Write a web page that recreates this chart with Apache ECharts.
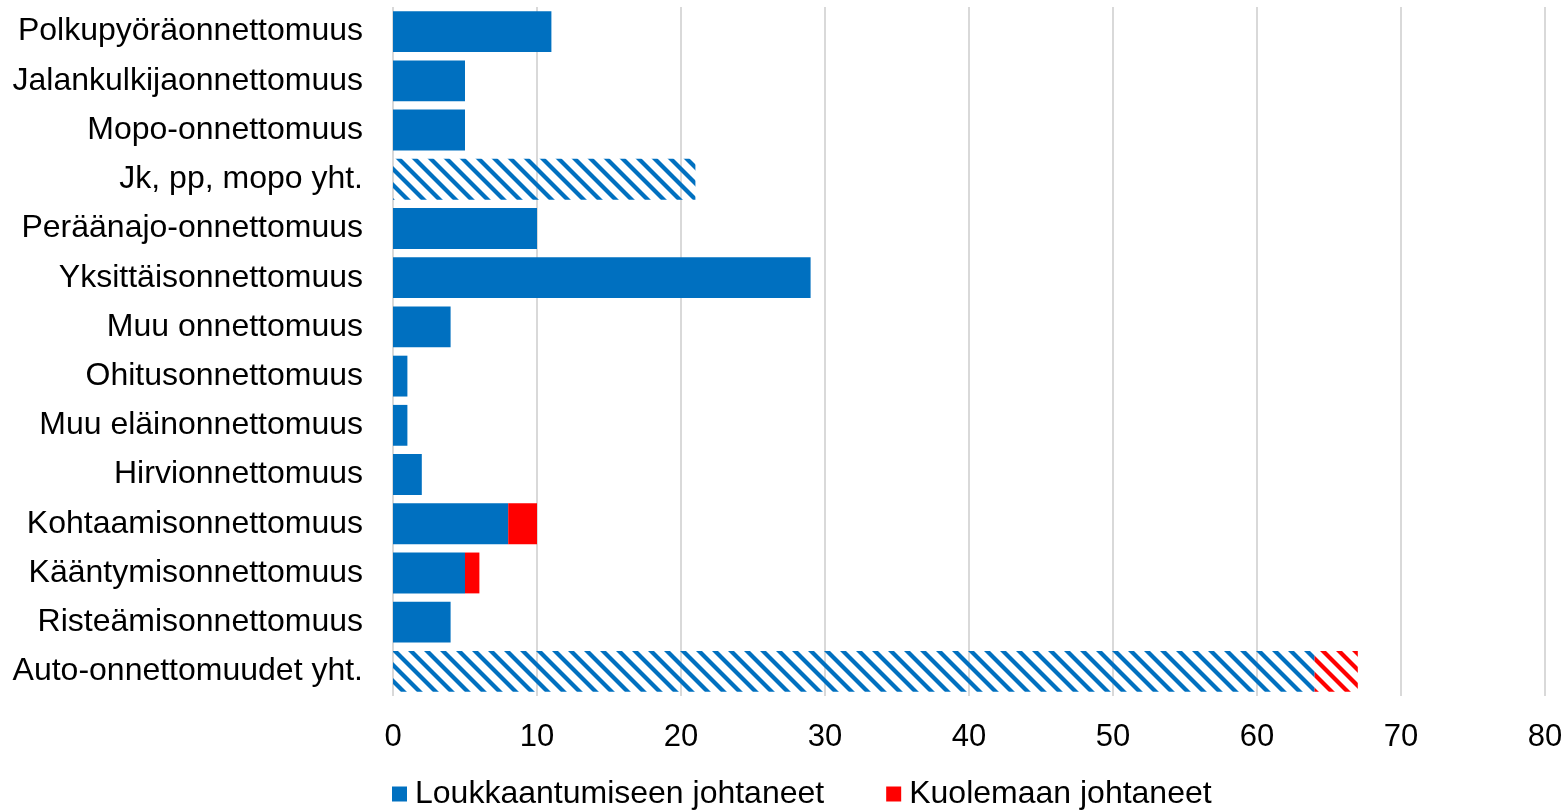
<!DOCTYPE html>
<html>
<head>
<meta charset="utf-8">
<script src="https://cdn.jsdelivr.net/npm/echarts@6/dist/echarts.min.js"></script>
<style>
  html, body { margin: 0; padding: 0; background: #fff; }
  #chart { width: 1566px; height: 812px; }
</style>
</head>
<body>
<div id="chart"></div>
<script>
// Accident categories, top to bottom
const categories = [
  'Polkupyöräonnettomuus',
  'Jalankulkijaonnettomuus',
  'Mopo-onnettomuus',
  'Jk, pp, mopo yht.',
  'Peräänajo-onnettomuus',
  'Yksittäisonnettomuus',
  'Muu onnettomuus',
  'Ohitusonnettomuus',
  'Muu eläinonnettomuus',
  'Hirvionnettomuus',
  'Kohtaamisonnettomuus',
  'Kääntymisonnettomuus',
  'Risteämisonnettomuus',
  'Auto-onnettomuudet yht.'
];
// Accidents leading to injury
const injured = [11, 5, 5, 21, 10, 29, 4, 1, 1, 2, 8, 5, 4, 64];
// Accidents leading to death
const deaths = [0, 0, 0, 0, 0, 0, 0, 0, 0, 0, 2, 1, 0, 3];
// Subtotal rows, drawn with a hatched fill
const subtotalRows = ['Jk, pp, mopo yht.', 'Auto-onnettomuudet yht.'];
const xTicks = { min: 0, max: 80, interval: 10 };

const seriesNames = ['Loukkaantumiseen johtaneet', 'Kuolemaan johtaneet'];
const BLUE = '#0070C0';
const RED = '#FF0000';
const FONT = '"Liberation Sans", Arial, sans-serif';

// Diagonal stripe tile (top-left to bottom-right) for subtotal bars
function stripeTile(color) {
  const size = 16;
  const c = document.createElement('canvas');
  c.width = size; c.height = size;
  const ctx = c.getContext('2d');
  ctx.strokeStyle = color;
  ctx.lineWidth = 4.2;
  ctx.lineCap = 'square';
  for (const off of [-size, 0, size]) {
    ctx.beginPath();
    ctx.moveTo(off, 0);
    ctx.lineTo(off + size, size);
    ctx.stroke();
  }
  return { image: c, repeat: 'repeat' };
}

function buildData(values, color) {
  const pattern = stripeTile(color);
  return values.map((v, i) => {
    if (subtotalRows.includes(categories[i])) {
      return { value: v, itemStyle: { color: pattern } };
    }
    return v;
  });
}

const chart = echarts.init(document.getElementById('chart'), null, { renderer: 'canvas' });

chart.setOption({
  animation: false,
  backgroundColor: '#ffffff',
  grid: { left: 393, right: 21, top: 7, bottom: 116, containLabel: false },
  legend: {
    data: seriesNames,
    left: 392,
    top: 778,
    padding: 0,
    itemWidth: 15,
    itemHeight: 15,
    itemGap: 62,
    icon: 'rect',
    textStyle: { fontFamily: FONT, fontSize: 32, color: '#000', padding: [0, 0, 0, 3] }
  },
  xAxis: {
    type: 'value',
    min: xTicks.min,
    max: xTicks.max,
    interval: xTicks.interval,
    axisLine: { show: false },
    axisTick: { show: false },
    axisLabel: { fontFamily: FONT, fontSize: 31, color: '#000', margin: 26 },
    splitLine: { show: true, lineStyle: { color: '#D9D9D9', width: 2 } }
  },
  yAxis: {
    type: 'category',
    data: categories,
    inverse: true,
    axisLine: { show: false },
    axisTick: { show: false },
    axisLabel: { fontFamily: FONT, fontSize: 32, color: '#000', margin: 30 }
  },
  series: [
    {
      name: seriesNames[0],
      type: 'bar',
      stack: 'total',
      barCategoryGap: '17%',
      itemStyle: { color: BLUE },
      data: buildData(injured, BLUE)
    },
    {
      name: seriesNames[1],
      type: 'bar',
      stack: 'total',
      barCategoryGap: '17%',
      itemStyle: { color: RED },
      data: buildData(deaths, RED)
    }
  ]
});
</script>
</body>
</html>
